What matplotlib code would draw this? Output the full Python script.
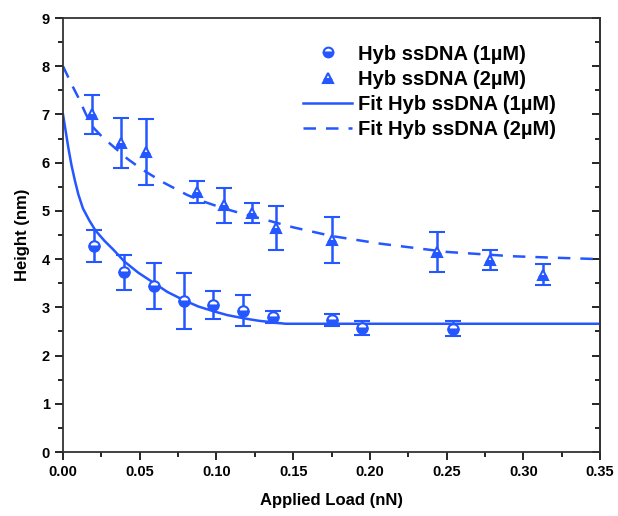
import matplotlib
matplotlib.use("Agg")
import matplotlib.pyplot as plt
from matplotlib.ticker import MultipleLocator
from matplotlib.lines import Line2D

plt.rcParams['font.family'] = ['Liberation Sans', 'DejaVu Sans']
plt.rcParams['font.weight'] = 'bold'

# measured points, 1uM
load_1 = [0.020, 0.040, 0.059, 0.079, 0.098, 0.117, 0.137, 0.175, 0.195, 0.254]
h_1 = [4.27, 3.73, 3.44, 3.14, 3.04, 2.93, 2.80, 2.74, 2.57, 2.56]
err_1 = [0.33, 0.36, 0.48, 0.58, 0.29, 0.32, 0.12, 0.12, 0.15, 0.15]

# measured points, 2uM
load_2 = [0.019, 0.038, 0.054, 0.087, 0.105, 0.123, 0.139, 0.175, 0.244, 0.278, 0.313]
h_2 = [7.00, 6.40, 6.22, 5.40, 5.12, 4.96, 4.65, 4.40, 4.15, 3.98, 3.68]
err_2 = [0.40, 0.52, 0.68, 0.23, 0.36, 0.20, 0.45, 0.48, 0.42, 0.20, 0.22]

# fit curves
fit1_x = [0.0, 0.001, 0.002, 0.0035, 0.0055, 0.0078, 0.010, 0.013, 0.017, 0.021,
          0.027, 0.033, 0.040, 0.049, 0.059, 0.068, 0.078, 0.088, 0.098, 0.107,
          0.115, 0.122, 0.128, 0.134, 0.138, 0.142, 0.145, 0.20, 0.35]
fit1_y = [7.0, 6.80, 6.60, 6.30, 5.95, 5.62, 5.34, 5.05, 4.81, 4.60,
          4.38, 4.19, 3.95, 3.72, 3.51, 3.32, 3.16, 3.02, 2.92, 2.84,
          2.79, 2.75, 2.72, 2.70, 2.68, 2.67, 2.66, 2.66, 2.66]
fit2_x = [0.0, 0.003, 0.006, 0.010, 0.015, 0.020, 0.026, 0.033, 0.042, 0.052,
          0.066, 0.081, 0.092, 0.104, 0.116, 0.128, 0.150, 0.175, 0.207, 0.250,
          0.293, 0.320, 0.350]
fit2_y = [8.0, 7.8, 7.6, 7.35, 7.0, 6.72, 6.52, 6.33, 6.08, 5.85,
          5.58, 5.33, 5.19, 5.06, 4.95, 4.85, 4.66, 4.48, 4.32, 4.15,
          4.06, 4.03, 4.00]

labels = ['Hyb ssDNA (1\u00b5M)', 'Hyb ssDNA (2\u00b5M)',
          'Fit Hyb ssDNA (1\u00b5M)', 'Fit Hyb ssDNA (2\u00b5M)']

blue = '#2457ff'

fig = plt.figure(figsize=(6.18, 5.16), dpi=100)
ax = fig.add_axes([0.102, 0.124, 0.869, 0.841])

mk = dict(color=blue, ms=7.5, fillstyle='bottom', markerfacecoloralt='white',
          mec=blue, mew=1.5)
ax.errorbar(load_1, h_1, yerr=err_1, fmt='o', elinewidth=1.8, capsize=5.5,
            capthick=1.8, zorder=3, **mk)
ax.errorbar(load_2, h_2, yerr=err_2, fmt='^', elinewidth=1.8, capsize=5.5,
            capthick=1.8, zorder=3, **mk)
ax.plot(fit1_x, fit1_y, '-', color=blue, lw=1.8)
ax.plot(fit2_x, fit2_y, '--', color=blue, lw=1.8, dashes=(5, 4))

ax.set_xlim(0, 0.35)
ax.set_ylim(0, 9)
ax.xaxis.set_major_locator(MultipleLocator(0.05))
ax.xaxis.set_minor_locator(MultipleLocator(0.025))
ax.yaxis.set_major_locator(MultipleLocator(1))
ax.yaxis.set_minor_locator(MultipleLocator(0.5))
ax.xaxis.set_major_formatter(plt.FormatStrFormatter('%.2f'))

ax.tick_params(which='both', direction='out', labelsize=10.5, width=1.2,
               top=False, right=False)
ax.tick_params(which='major', length=6)
ax.tick_params(which='minor', length=3.5)
# inward ticks on the right side
axr = ax.secondary_yaxis('right')
axr.yaxis.set_major_locator(MultipleLocator(1))
axr.yaxis.set_minor_locator(MultipleLocator(0.5))
axr.tick_params(which='both', direction='in', labelright=False, width=1.2)
axr.tick_params(which='major', length=6)
axr.tick_params(which='minor', length=3.5)
axr.spines['right'].set_linewidth(1.3)
axr.spines['right'].set_color('#333333')
for s in ax.spines.values():
    s.set_linewidth(1.3)
    s.set_color('#333333')

ax.set_xlabel('Applied Load (nN)', fontsize=12, fontweight='bold', labelpad=10)
ax.set_ylabel('Height (nm)', fontsize=12, fontweight='bold', labelpad=8)

mk_leg = dict(mk, ms=7)
handles = [Line2D([], [], ls='none', marker='o', **mk_leg),
           Line2D([], [], ls='none', marker='^', **mk_leg),
           Line2D([], [], ls='-', color=blue, lw=1.8),
           Line2D([], [], ls='--', color=blue, lw=1.8, dashes=(5, 4))]
ax.legend(handles, labels, loc='upper left', frameon=False, fontsize=14.5,
          bbox_to_anchor=(0.447, 0.939), borderaxespad=0, borderpad=0,
          handlelength=2.45, labelspacing=0.30, handletextpad=0.3)

fig.savefig('out.png', dpi=100)
